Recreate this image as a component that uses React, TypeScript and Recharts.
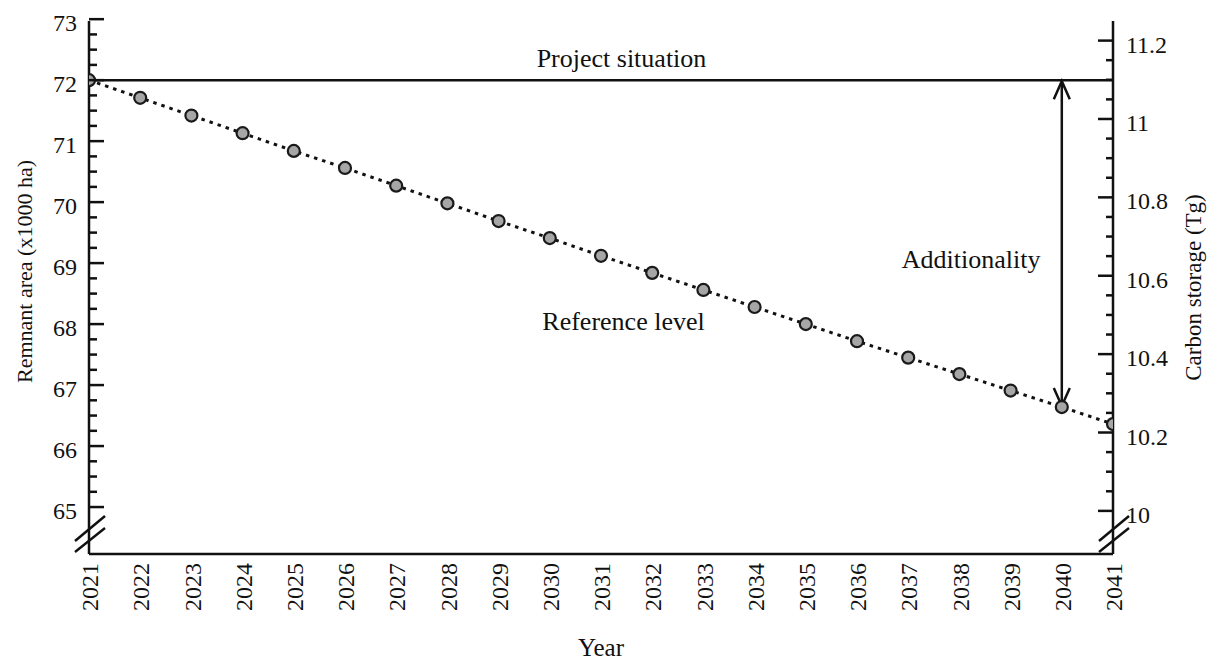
import React from "react";
import { ComposedChart, Line, XAxis, YAxis, ReferenceLine, ReferenceDot } from "recharts";

if (typeof document !== "undefined") document.body.style.margin = "0";

const YEARS = [2021, 2022, 2023, 2024, 2025, 2026, 2027, 2028, 2029, 2030, 2031, 2032, 2033, 2034, 2035, 2036, 2037, 2038, 2039, 2040, 2041];
// remnant area, x1000 ha
const REFERENCE_LEVEL = [72.0, 71.71, 71.42, 71.13, 70.84, 70.56, 70.27, 69.98, 69.69, 69.41, 69.12, 68.84, 68.56, 68.28, 68.0, 67.72, 67.45, 67.18, 66.91, 66.64, 66.36];
const PROJECT_SITUATION = 72;
const ARROW_YEAR = 2040;

const LEFT_MAJOR = [65, 66, 67, 68, 69, 70, 71, 72, 73];
const RIGHT_MAJOR = [10, 10.2, 10.4, 10.6, 10.8, 11, 11.2];
const LEFT_DOMAIN: [number, number] = [64.23, 72.97];
const RIGHT_DOMAIN: [number, number] = [9.89, 11.25];

// annotation anchors (data space)
const NOTES = [
  { text: "Project situation", x: 2031.4, y: 72.36 },
  { text: "Reference level", x: 2031.44, y: 68.06 },
  { text: "Additionality", x: 2038.23, y: 69.07 },
];

const subdivide = (majors: number[], parts: number) => {
  const out: number[] = [];
  majors.forEach((m, i) => {
    out.push(m);
    if (i < majors.length - 1) {
      const step = (majors[i + 1] - m) / parts;
      for (let k = 1; k < parts; k++) out.push(m + step * k);
    }
  });
  return out;
};

const leftTicks = subdivide(LEFT_MAJOR, 4);
const rightTicks = subdivide(RIGHT_MAJOR, 4);
const data = YEARS.map((year, i) => ({ year, ref: REFERENCE_LEVEL[i] }));

const FONT = "'Liberation Serif', 'Times New Roman', serif";
const INK = "#111";
const tickStyle = { fontFamily: FONT, fontSize: 24 };
const titleStyle = { fontFamily: FONT, fontSize: 23 };
const noteStyle = { fontFamily: FONT, fontSize: 26 };

const isMajor = (v: number, majors: number[]) => majors.some((m) => Math.abs(m - v) < 1e-6);

function LeftTick(props: any) {
  const { x, y, payload } = props;
  const v = payload.value;
  const major = isMajor(v, LEFT_MAJOR);
  return (
    <g>
      <line x1={x} x2={x + (major ? 15 : 8)} y1={y} y2={y} stroke={INK} strokeWidth={2.5} />
      {major && (
        <text x={x - 12} y={y} dy="0.5em" textAnchor="end" style={tickStyle} fill={INK}>
          {v}
        </text>
      )}
    </g>
  );
}

function RightTick(props: any) {
  const { x, y, payload } = props;
  const v = payload.value;
  const major = isMajor(v, RIGHT_MAJOR);
  return (
    <g>
      <line x1={x} x2={x - (major ? 15 : 7)} y1={y} y2={y} stroke={INK} strokeWidth={2.5} />
      {major && (
        <text x={x + 13} y={y} dy="0.5em" textAnchor="start" style={tickStyle} fill={INK}>
          {Number(v.toFixed(1))}
        </text>
      )}
    </g>
  );
}

function YearTick(props: any) {
  const { x, y, payload } = props;
  return (
    <text
      x={x}
      y={y}
      dy="0.38em"
      transform={`rotate(-90, ${x}, ${y})`}
      textAnchor="end"
      style={tickStyle}
      fill={INK}
    >
      {payload.value}
    </text>
  );
}

function DoubleArrow(props: any) {
  const { x1, y1, x2, y2 } = props;
  const top = Math.min(y1, y2);
  const bottom = Math.max(y1, y2);
  return (
    <g stroke={INK} strokeWidth={2.5} fill="none">
      <line x1={x1} x2={x2} y1={top + 1} y2={bottom - 1} />
      <polyline points={`${x1 - 8},${top + 19} ${x1},${top + 1} ${x1 + 8},${top + 19}`} />
      <polyline points={`${x1 - 8},${bottom - 19} ${x1},${bottom - 1} ${x1 + 8},${bottom - 19}`} />
    </g>
  );
}

// axis break marks drawn at the lower end of a vertical axis
function BreakMarks(props: any) {
  const { x1, y1, y2 } = props;
  const b = Math.max(y1, y2);
  return (
    <g stroke={INK} strokeWidth={2.5}>
      <line x1={x1 - 14} y1={b - 2} x2={x1 + 16} y2={b - 26} />
      <line x1={x1 - 14} y1={b - 13} x2={x1 + 16} y2={b - 38} />
    </g>
  );
}

export default function App() {
  return (
    <div style={{ width: 1214, height: 662, background: "#fff", fontFamily: FONT }}>
      <ComposedChart
        width={1214}
        height={662}
        data={data}
        margin={{ top: 21, right: 0, bottom: 0, left: 0 }}
        style={{ fontFamily: FONT }}
      >
        <XAxis
          xAxisId="main"
          dataKey="year"
          type="number"
          domain={[2021, 2041]}
          ticks={YEARS}
          interval={0}
          allowDataOverflow
          height={108}
          tickLine={false}
          tickSize={0}
          tickMargin={9}
          tick={<YearTick />}
          axisLine={{ stroke: INK, strokeWidth: 2.5 }}
          label={{ value: "Year", position: "insideBottom", offset: 6, fill: INK, style: { ...noteStyle, fontSize: 25 } }}
        />
        <XAxis
          xAxisId="top"
          orientation="top"
          type="number"
          domain={[2021, 2041]}
          height={0}
          tick={false}
          tickLine={false}
          axisLine={{ stroke: INK, strokeWidth: 2.5 }}
        />
        <YAxis
          yAxisId="left"
          type="number"
          domain={LEFT_DOMAIN}
          ticks={leftTicks}
          interval={0}
          allowDataOverflow
          width={89}
          tickLine={false}
          tickSize={0}
          tickMargin={0}
          tick={<LeftTick />}
          axisLine={{ stroke: INK, strokeWidth: 2.5 }}
          label={{
            value: "Remnant area (x1000 ha)",
            angle: -90,
            position: "insideLeft",
            offset: 24,
            dy: -16,
            fill: INK,
            style: { ...titleStyle, fontSize: 22, textAnchor: "middle" },
          }}
        />
        <YAxis
          yAxisId="right"
          orientation="right"
          type="number"
          domain={RIGHT_DOMAIN}
          ticks={rightTicks}
          interval={0}
          allowDataOverflow
          width={101}
          tickLine={false}
          tickSize={0}
          tickMargin={0}
          tick={<RightTick />}
          axisLine={{ stroke: INK, strokeWidth: 2.5 }}
          label={{
            value: "Carbon storage (Tg)",
            angle: -90,
            position: "insideRight",
            offset: 21,
            fill: INK,
            style: { ...titleStyle, textAnchor: "middle" },
          }}
        />

        <ReferenceLine
          xAxisId="main"
          yAxisId="left"
          y={PROJECT_SITUATION}
          stroke={INK}
          strokeWidth={2.5}
        />
        <Line
          xAxisId="main"
          yAxisId="left"
          dataKey="ref"
          type="linear"
          stroke={INK}
          strokeWidth={3}
          strokeDasharray="3.5 5"
          dot={{ r: 6, fill: "#a6a6a6", stroke: "#1a1a1a", strokeWidth: 2.2, strokeDasharray: "none" }}
          activeDot={false}
          isAnimationActive={false}
        />
        <ReferenceLine
          xAxisId="main"
          yAxisId="left"
          segment={[
            { x: ARROW_YEAR, y: PROJECT_SITUATION },
            { x: ARROW_YEAR, y: REFERENCE_LEVEL[YEARS.indexOf(ARROW_YEAR)] },
          ]}
          shape={<DoubleArrow />}
        />
        <ReferenceLine xAxisId="main" yAxisId="left" x={YEARS[0]} stroke="none" shape={<BreakMarks />} />
        <ReferenceLine xAxisId="main" yAxisId="left" x={YEARS[YEARS.length - 1]} stroke="none" shape={<BreakMarks />} />

        {NOTES.map((n) => (
          <ReferenceDot
            key={n.text}
            xAxisId="main"
            yAxisId="left"
            x={n.x}
            y={n.y}
            r={1}
            fill="none"
            stroke="none"
            label={{ value: n.text, position: "center", fill: INK, style: noteStyle }}
          />
        ))}
      </ComposedChart>
    </div>
  );
}
